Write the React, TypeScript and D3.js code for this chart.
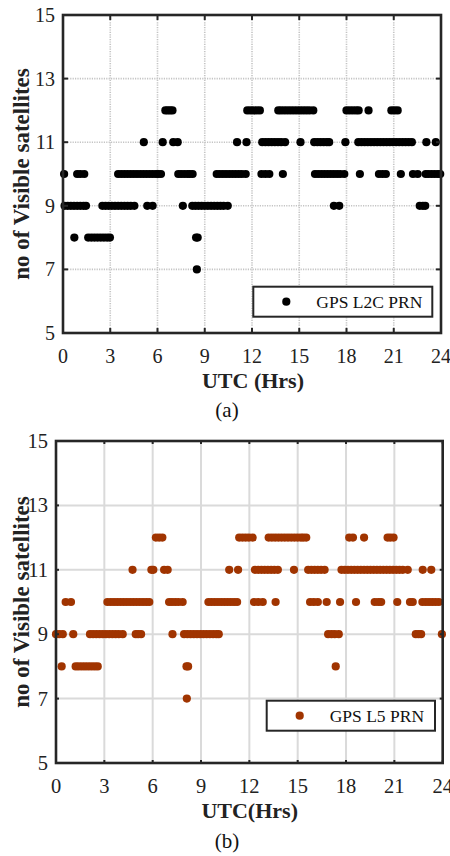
import React from "react";
import * as d3 from "d3";

// ---- data (UTC hours at which a given satellite count was observed) ----
const xTicks = [0, 3, 6, 9, 12, 15, 18, 21, 24];
const yTicks = [5, 7, 9, 11, 13, 15];

const l2cAt12 = [6.5, 6.65, 6.8, 6.95, 11.7, 11.9, 12.1, 12.3, 12.5, 13.67, 13.85, 14.05, 14.25, 14.45, 14.65, 14.85, 15.05, 15.25, 15.45, 15.65, 15.89, 18.0, 18.2, 18.4, 18.6, 18.77, 19.4, 20.85, 21.05, 21.25];
const l2cAt11 = [5.13, 6.33, 7.0, 7.28, 11.05, 11.65, 12.65, 12.85, 13.05, 13.25, 13.45, 13.65, 13.85, 14.1, 15.08, 15.95, 16.15, 16.35, 16.55, 16.75, 16.9, 17.93, 18.75, 18.95, 19.15, 19.35, 19.55, 19.75, 19.95, 20.15, 20.35, 20.55, 20.75, 20.95, 21.15, 21.35, 21.55, 21.75, 21.95, 22.15, 23.07, 23.67];
const l2cAt10 = [0.07, 0.9, 1.1, 1.35, 3.5, 3.7, 3.9, 4.1, 4.3, 4.5, 4.7, 4.9, 5.1, 5.3, 5.5, 5.7, 5.9, 6.05, 6.22, 7.32, 7.5, 7.7, 7.9, 8.05, 8.23, 9.76, 9.95, 10.15, 10.35, 10.55, 10.75, 10.95, 11.15, 11.35, 11.6, 12.6, 12.85, 13.1, 13.96, 16.0, 16.2, 16.4, 16.6, 16.8, 17.0, 17.2, 17.4, 17.6, 17.86, 18.85, 20.06, 20.28, 20.5, 21.45, 22.22, 22.52, 23.03, 23.2, 23.4, 23.6, 23.8, 23.95];
const l2cAt9 = [0.1, 0.3, 0.5, 0.7, 0.9, 1.1, 1.3, 1.46, 2.5, 2.7, 2.9, 3.1, 3.3, 3.5, 3.7, 3.9, 4.1, 4.3, 4.53, 5.35, 5.69, 7.61, 8.21, 8.4, 8.6, 8.8, 9.0, 9.2, 9.4, 9.6, 9.8, 10.0, 10.2, 10.46, 17.2, 17.54, 22.65, 22.85, 23.0];
const l2cAt8 = [0.72, 1.6, 1.8, 2.0, 2.2, 2.4, 2.6, 2.8, 2.98, 8.45, 8.55];
const l2cAt7 = [8.5];

const l5At12 = [6.2, 6.4, 6.6, 11.37, 11.57, 11.77, 11.97, 12.2, 13.2, 13.4, 13.6, 13.8, 14.0, 14.2, 14.4, 14.6, 14.8, 15.0, 15.2, 15.35, 15.53, 18.2, 18.43, 19.12, 20.58, 20.75, 20.95];
const l5At11 = [4.75, 5.92, 6.04, 6.71, 6.93, 10.75, 11.3, 12.35, 12.55, 12.75, 12.95, 13.15, 13.35, 13.55, 13.77, 14.77, 15.65, 15.85, 16.05, 16.25, 16.45, 16.67, 17.72, 17.92, 18.12, 18.32, 18.52, 18.72, 18.92, 19.12, 19.32, 19.52, 19.72, 19.92, 20.12, 20.32, 20.52, 20.72, 20.92, 21.12, 21.32, 21.52, 21.83, 22.76, 23.29];
const l5At10 = [0.6, 0.93, 3.19, 3.4, 3.6, 3.8, 4.0, 4.2, 4.4, 4.6, 4.8, 5.0, 5.2, 5.4, 5.6, 5.79, 7.02, 7.2, 7.4, 7.6, 7.86, 9.46, 9.65, 9.85, 10.05, 10.25, 10.45, 10.65, 10.85, 11.05, 11.24, 12.29, 12.55, 12.83, 13.63, 15.77, 16.0, 16.25, 16.8, 17.63, 18.62, 19.78, 20.0, 20.18, 21.18, 21.97, 22.14, 22.74, 22.95, 23.15, 23.35, 23.55, 23.76];
const l5At9 = [0.0, 0.2, 0.42, 1.07, 2.11, 2.3, 2.5, 2.7, 2.9, 3.1, 3.3, 3.5, 3.7, 3.9, 4.14, 4.95, 5.1, 5.28, 7.23, 7.95, 8.15, 8.35, 8.55, 8.75, 8.95, 9.15, 9.35, 9.55, 9.75, 9.95, 10.1, 16.89, 17.1, 17.3, 17.55, 22.33, 22.5, 22.66, 23.95];
const l5At8 = [0.35, 1.22, 1.4, 1.6, 1.8, 2.0, 2.2, 2.4, 2.59, 8.1, 8.2, 17.36];
const l5At7 = [8.12];

type Pt = { h: number; n: number };
const toPoints = (levels: [number, number[]][]): Pt[] =>
  levels.flatMap(([n, hs]) => hs.map((h) => ({ h, n })));

const l2cPoints = toPoints([[12, l2cAt12], [11, l2cAt11], [10, l2cAt10], [9, l2cAt9], [8, l2cAt8], [7, l2cAt7]]);
const l5Points = toPoints([[12, l5At12], [11, l5At11], [10, l5At10], [9, l5At9], [8, l5At8], [7, l5At7]]);

const FONT = '"Liberation Serif", "DejaVu Serif", serif';
const AX = "#262626";

type PanelProps = {
  left: number; right: number; top: number; bottom: number;
  points: Pt[]; color: string; legend: string;
  xLabel: string; xLabelX: number; subLabel: string; subLabelY: number;
  dotted: boolean; tickLen: number; tickFont: number;
  legendBox: [number, number, number, number];
};

function Panel(p: PanelProps) {
  const x = d3.scaleLinear().domain([0, 24]).range([p.left, p.right]);
  const y = d3.scaleLinear().domain([5, 15]).range([p.bottom, p.top]);
  const gridStyle = p.dotted
    ? { stroke: "#c4c4c4", strokeWidth: 1.6, strokeDasharray: "1.2,1.2" }
    : { stroke: "#dadada", strokeWidth: 2 };
  const [lx0, ly0, lx1, ly1] = p.legendBox;
  const midY = (p.top + p.bottom) / 2;
  const tf = { fontFamily: FONT };
  return (
    <g style={tf}>
      {xTicks.map((t) => (
        <line key={"gx" + t} x1={x(t)} x2={x(t)} y1={p.top} y2={p.bottom} {...gridStyle} />
      ))}
      {yTicks.map((t) => (
        <line key={"gy" + t} x1={p.left} x2={p.right} y1={y(t)} y2={y(t)} {...gridStyle} />
      ))}
      {p.points.map((d, i) => (
        <circle key={i} cx={x(d.h)} cy={y(d.n)} r={4.1} fill={p.color} />
      ))}
      {xTicks.map((t) => (
        <g key={"tx" + t}>
          <line x1={x(t)} x2={x(t)} y1={p.bottom} y2={p.bottom - p.tickLen} stroke={AX} strokeWidth={2} />
          <line x1={x(t)} x2={x(t)} y1={p.top} y2={p.top + p.tickLen} stroke={AX} strokeWidth={2} />
          <text x={x(t)} y={p.bottom + 30} style={{ ...tf, fontSize: p.tickFont }} textAnchor="middle" fill="#222">{t}</text>
        </g>
      ))}
      {yTicks.map((t) => (
        <g key={"ty" + t}>
          <line x1={p.left} x2={p.left + p.tickLen} y1={y(t)} y2={y(t)} stroke={AX} strokeWidth={2} />
          <line x1={p.right} x2={p.right - p.tickLen} y1={y(t)} y2={y(t)} stroke={AX} strokeWidth={2} />
          <text x={p.left - 8} y={y(t) + 7} style={{ ...tf, fontSize: p.tickFont }} textAnchor="end" fill="#222">{t}</text>
        </g>
      ))}
      <rect x={p.left} y={p.top} width={p.right - p.left} height={p.bottom - p.top} fill="none" stroke={AX} strokeWidth={2.6} />
      <rect x={lx0} y={ly0} width={lx1 - lx0} height={ly1 - ly0} fill="#fff" stroke={AX} strokeWidth={2} />
      <circle cx={lx0 + 33} cy={(ly0 + ly1) / 2} r={4.1} fill={p.color} />
      <text x={lx0 + 63} y={(ly0 + ly1) / 2 + 6.5} style={{ ...tf, fontSize: 17.5 }} fill="#111">{p.legend}</text>
      <text x={p.xLabelX} y={p.bottom + 55} style={{ ...tf, fontSize: 22, fontWeight: "bold" }} textAnchor="middle" fill="#222">{p.xLabel}</text>
      <text x={227} y={p.subLabelY} style={{ ...tf, fontSize: 21 }} textAnchor="middle" fill="#111">{p.subLabel}</text>
      <text transform={`translate(28.5,${midY}) rotate(-90)`} style={{ ...tf, fontSize: 23, fontWeight: "bold" }} textAnchor="middle" fill="#222">
        no of Visible satellites
      </text>
    </g>
  );
}

export default function App() {
  return (
    <svg width={450} height={856} style={{ position: "absolute", left: 0, top: 0, background: "#fff", fontFamily: FONT }}>
      <rect width={450} height={856} fill="#fff" />
      <Panel left={63} right={441} top={15} bottom={333}
        points={l2cPoints} color="#000" legend="GPS L2C PRN"
        xLabel="UTC (Hrs)" xLabelX={253} subLabel="(a)" subLabelY={417}
        dotted={true} tickLen={5} tickFont={20}
        legendBox={[253.3, 286.7, 432.3, 316.7]} />
      <Panel left={56} right={442.7} top={441} bottom={763}
        points={l5Points} color="#A03400" legend="GPS L5 PRN"
        xLabel="UTC(Hrs)" xLabelX={249.7} subLabel="(b)" subLabelY={848}
        dotted={false} tickLen={3} tickFont={20.5}
        legendBox={[266.7, 700.7, 435, 730.7]} />
    </svg>
  );
}
